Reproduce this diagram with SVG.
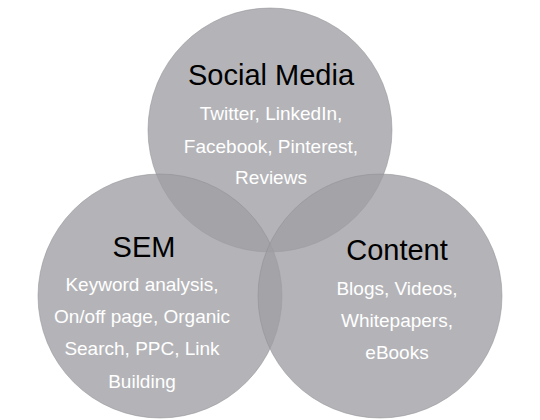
<svg xmlns="http://www.w3.org/2000/svg" width="540" height="420" viewBox="0 0 540 420">
<style>
.c{fill:#9e9ea3;fill-opacity:0.77;stroke:#8e8e93;stroke-opacity:0.5;stroke-width:1}
.t{font-family:"Liberation Sans",Arial,sans-serif;font-size:29px;fill:#000;text-anchor:middle}
.s{font-family:"Liberation Sans",Arial,sans-serif;font-size:19px;fill:#fff;text-anchor:middle}
</style>
<rect width="540" height="420" fill="#fff"/>
<g id="social-media">
<circle class="c" cx="270" cy="130" r="122"/>
</g>
<g id="sem">
<circle class="c" cx="160" cy="296" r="122"/>
</g>
<g id="content">
<circle class="c" cx="380" cy="296" r="122"/>
</g>
<g id="labels">
<text class="t" x="271" y="85">Social Media</text>
<text class="s" x="271" y="120">Twitter, LinkedIn,</text>
<text class="s" x="271" y="153">Facebook, Pinterest,</text>
<text class="s" x="271" y="184">Reviews</text>
<text class="t" x="144" y="257">SEM</text>
<text class="s" x="142" y="291">Keyword analysis,</text>
<text class="s" x="142" y="323">On/off page, Organic</text>
<text class="s" x="142" y="355">Search, PPC, Link</text>
<text class="s" x="142" y="388">Building</text>
<text class="t" x="397" y="260">Content</text>
<text class="s" x="397" y="295">Blogs, Videos,</text>
<text class="s" x="397" y="327">Whitepapers,</text>
<text class="s" x="397" y="359">eBooks</text>
</g>
</svg>
